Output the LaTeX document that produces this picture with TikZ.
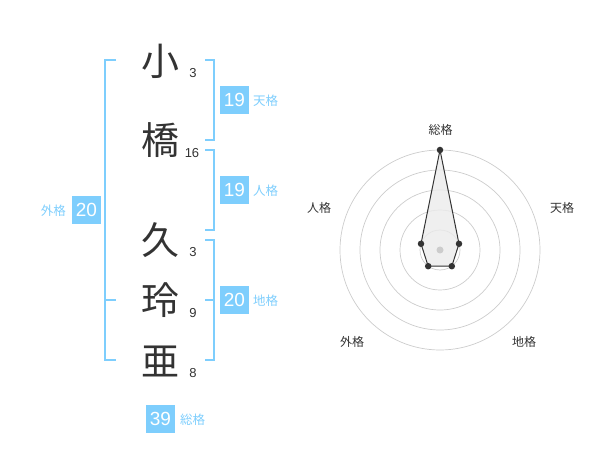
\documentclass[tikz,border=0pt]{standalone}
\usepackage{fontspec}
\setmainfont{Liberation Sans}
\newfontfamily\jp{Noto Sans CJK JP}
\definecolor{skyb}{HTML}{7ECEFD}
\definecolor{ink}{HTML}{333333}
\definecolor{ring}{HTML}{CCCCCC}
\begin{document}
\begin{tikzpicture}[x=1pt,y=-1pt,
  kanji/.style={font=\jp\fontsize{38}{38}\selectfont, text=ink, inner sep=0pt},
  strokes/.style={font=\fontsize{13}{13}\selectfont, text=ink, inner sep=0pt},
  numbox/.style={fill=skyb, text=white, minimum width=29pt, minimum height=28pt, inner sep=0pt, font=\fontsize{19}{19}\selectfont},
  kakulabel/.style={font=\jp\fontsize{12.5}{12.5}\selectfont, text=skyb, inner sep=0pt, anchor=west},
  brk/.style={draw=skyb, line width=2pt},
  radarlabel/.style={font=\jp\fontsize{12}{12}\selectfont, text=ink, inner sep=0pt},
  ringstyle/.style={draw=ring, line width=0.7pt},
  dot/.style={circle, fill=ink, inner sep=0pt, minimum size=6.5pt}]
\useasboundingbox (0,0) rectangle (600,470);
% characters
\node[kanji] (c1) at (160,61) {小};
\node[kanji] (c2) at (160,140) {橋};
\node[kanji] (c3) at (160,240) {久};
\node[kanji] (c4) at (160,300) {玲};
\node[kanji] (c5) at (160,361) {亜};
\node[strokes] (s1) at (193,73) {3};
\node[strokes] (s2) at (192,153) {16};
\node[strokes] (s3) at (193,252) {3};
\node[strokes] (s4) at (193,313) {9};
\node[strokes] (s5) at (193,373) {8};
% brackets
\draw[brk] (205,60) -- (214,60) -- (214,140) -- (205,140);
\draw[brk] (205,150) -- (214,150) -- (214,230) -- (205,230);
\draw[brk] (205,240) -- (214,240) -- (214,360) -- (205,360);
\draw[brk] (205,300) -- (214,300);
\draw[brk] (116,60) -- (105,60) -- (105,360) -- (116,360);
\draw[brk] (105,300) -- (116,300);
% boxes
\node[numbox] (ten) at (234.5,100) {19};
\node[kakulabel] (tenl) at (253,101) {天格};
\node[numbox] (jin) at (234.5,190) {19};
\node[kakulabel] (jinl) at (253,191) {人格};
\node[numbox] (chi) at (234.5,300) {20};
\node[kakulabel] (chil) at (253,301) {地格};
\node[numbox] (gai) at (86.5,210) {20};
\node[kakulabel, anchor=east] (gail) at (66,211) {外格};
\node[numbox] (sou) at (160.5,419) {39};
\node[kakulabel] (soul) at (180,420) {総格};
% radar
\foreach \r in {20,40,60,80,100} \draw[ringstyle] (440,250) circle[radius=\r pt];
\coordinate (pS) at (440,150);
\coordinate (pT) at (459.0,243.8);
\coordinate (pC) at (451.8,266.2);
\coordinate (pG) at (428.2,266.2);
\coordinate (pJ) at (421.0,243.8);
\draw[ink, line width=1pt, fill=black!8, fill opacity=0.8] (pS) -- (pT) -- (pC) -- (pG) -- (pJ) -- cycle;
\fill[ring] (440,250) circle[radius=3.5pt];
\foreach \p in {pS,pT,pC,pG,pJ} \node[dot] at (\p) {};
\node[radarlabel] (rS) at (440.5,130) {総格};
\node[radarlabel] (rT) at (562,208) {天格};
\node[radarlabel] (rJ) at (319,208) {人格};
\node[radarlabel] (rG) at (352,342) {外格};
\node[radarlabel] (rC) at (524,342) {地格};
\end{tikzpicture}
\end{document}
